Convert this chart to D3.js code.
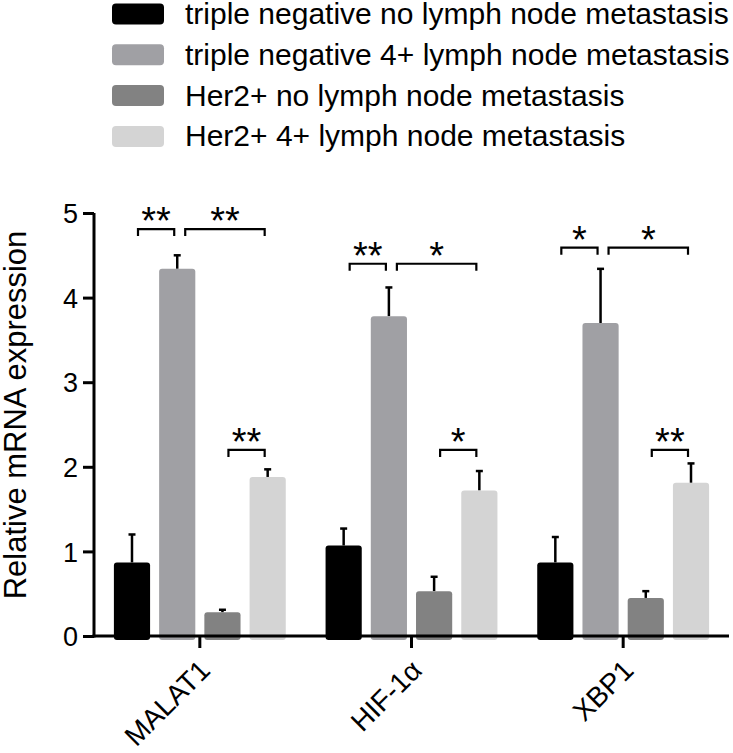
<!DOCTYPE html>
<html>
<head>
<meta charset="utf-8">
<script src="https://cdn.jsdelivr.net/npm/d3@7/dist/d3.min.js"></script>
<style>
  body { margin: 0; background: #fff; }
  text { font-family: "Liberation Sans", Arial, sans-serif; fill: #000; }
</style>
</head>
<body>
<svg id="chart" width="733" height="753"></svg>
<script>
// data
var genes = ["MALAT1", "HIF-1\u03b1", "XBP1"];
var groups = [
  "triple negative no lymph node metastasis",
  "triple negative 4+ lymph node metastasis",
  "Her2+ no lymph node metastasis",
  "Her2+ 4+ lymph node metastasis"
];
// mean per gene, one array per group
var means = [
  [0.87, 1.07, 0.87],
  [4.34, 3.78, 3.70],
  [0.28, 0.53, 0.45],
  [1.88, 1.72, 1.81]
];
var errs = [
  [0.33, 0.20, 0.30],
  [0.16, 0.34, 0.64],
  [0.03, 0.17, 0.08],
  [0.09, 0.23, 0.23]
];
var yTicks = [0, 1, 2, 3, 4, 5];
// significance: gene index, from group, to group, bracket height, label
var sig = [
  [0, 0, 1, 4.81, "**"], [0, 1, 3, 4.81, "**"], [0, 2, 3, 2.20, "**"],
  [1, 0, 1, 4.40, "**"], [1, 1, 3, 4.40, "*"],  [1, 2, 3, 2.20, "*"],
  [2, 0, 1, 4.59, "*"],  [2, 1, 3, 4.59, "*"],  [2, 2, 3, 2.20, "**"]
];
var colors = ["#000000", "#a0a0a4", "#828282", "#d4d4d4"];

var svg = d3.select("#chart");
var plotL = 94, plotR = 729, plotT = 213, plotB = 636;

var x = d3.scaleBand().domain(d3.range(genes.length)).range([plotL, plotR]);
var xs = d3.scaleBand().domain(d3.range(groups.length))
    .range([0, x.bandwidth()]).paddingInner(0.2).paddingOuter(0.44);
var y = d3.scaleLinear().domain([0, 5]).range([plotB, plotT]);

function cx(g, s) { return x(g) + xs(s) + xs.bandwidth() / 2; }

// legend
var leg = svg.append("g").selectAll("g").data(groups).enter().append("g")
    .attr("transform", function (d, i) { return "translate(112," + (14 + i * 40.8) + ")"; });
leg.append("rect")
    .attr("x", 0).attr("y", -10.5).attr("width", 52).attr("height", 21).attr("rx", 4)
    .attr("fill", function (d, i) { return colors[i]; });
leg.append("text")
    .attr("x", 73).attr("y", 10)
    .style("font-size", "30px")
    .text(function (d) { return d; });

// bars
var cells = [];
means.forEach(function (row, s) {
  row.forEach(function (v, g) { cells.push({ g: g, s: s, v: v, e: errs[s][g] }); });
});

svg.append("g").selectAll("line").data(cells).enter().append("line")
    .attr("x1", function (d) { return cx(d.g, d.s); })
    .attr("x2", function (d) { return cx(d.g, d.s); })
    .attr("y1", function (d) { return y(d.v); })
    .attr("y2", function (d) { return y(d.v + d.e); })
    .attr("stroke", "#000").attr("stroke-width", 2.5);
svg.append("g").selectAll("line").data(cells).enter().append("line")
    .attr("x1", function (d) { return cx(d.g, d.s) - 3.5; })
    .attr("x2", function (d) { return cx(d.g, d.s) + 3.5; })
    .attr("y1", function (d) { return y(d.v + d.e); })
    .attr("y2", function (d) { return y(d.v + d.e); })
    .attr("stroke", "#000").attr("stroke-width", 2.5);

svg.append("g").selectAll("rect").data(cells).enter().append("rect")
    .attr("x", function (d) { return x(d.g) + xs(d.s); })
    .attr("width", xs.bandwidth())
    .attr("y", function (d) { return y(d.v); })
    .attr("height", function (d) { return plotB - y(d.v) + 4; })
    .attr("rx", 3)
    .attr("fill", function (d) { return colors[d.s]; });

// axes
var yAxis = svg.append("g")
    .attr("transform", "translate(" + plotL + ",0)")
    .call(d3.axisLeft(y).tickValues(yTicks).tickFormat(d3.format("d")).tickSize(11).tickPadding(5));
yAxis.select(".domain").attr("d", "M0," + plotT + "V" + (plotB + 1.5));

var xAxis = svg.append("g")
    .attr("transform", "translate(0," + plotB + ")")
    .call(d3.axisBottom(x).tickFormat(function (d) { return genes[d]; }).tickSize(12).tickPadding(0));
xAxis.select(".domain").attr("d", "M" + (plotL - 1.5) + ",0H" + plotR);

svg.selectAll(".domain").attr("stroke", "#000").attr("stroke-width", 3);
svg.selectAll(".tick line").attr("stroke", "#000").attr("stroke-width", 3);
yAxis.selectAll("text").style("font-size", "27px").attr("dy", "0.36em");
xAxis.selectAll("text")
    .style("font-size", "28px")
    .attr("text-anchor", "end")
    .attr("y", 0).attr("dy", 0)
    .attr("transform", "translate(12,36) rotate(-45)");

// y label
svg.append("text")
    .attr("transform", "translate(26,415) rotate(-90)")
    .attr("text-anchor", "middle")
    .style("font-size", "31px")
    .text("Relative mRNA expression");

// significance brackets
function brX(d) {
  var x1 = cx(d[0], d[1]) + (d[1] === 1 ? 8 : 6), x2 = cx(d[0], d[2]) - 3;
  return [x1, x2];
}
var br = svg.append("g").selectAll("g").data(sig).enter().append("g");
br.append("path")
    .attr("d", function (d) {
      var e = brX(d), yy = y(d[3]);
      return "M" + e[0] + "," + (yy + 7) + "V" + yy + "H" + e[1] + "V" + (yy + 7);
    })
    .attr("fill", "none").attr("stroke", "#000").attr("stroke-width", 2.2);
br.append("text")
    .attr("x", function (d) { var e = brX(d); return (e[0] + e[1]) / 2; })
    .attr("y", function (d) { return y(d[3]) + 5; })
    .attr("text-anchor", "middle")
    .style("font-size", "38px")
    .text(function (d) { return d[4]; });
</script>
</body>
</html>
